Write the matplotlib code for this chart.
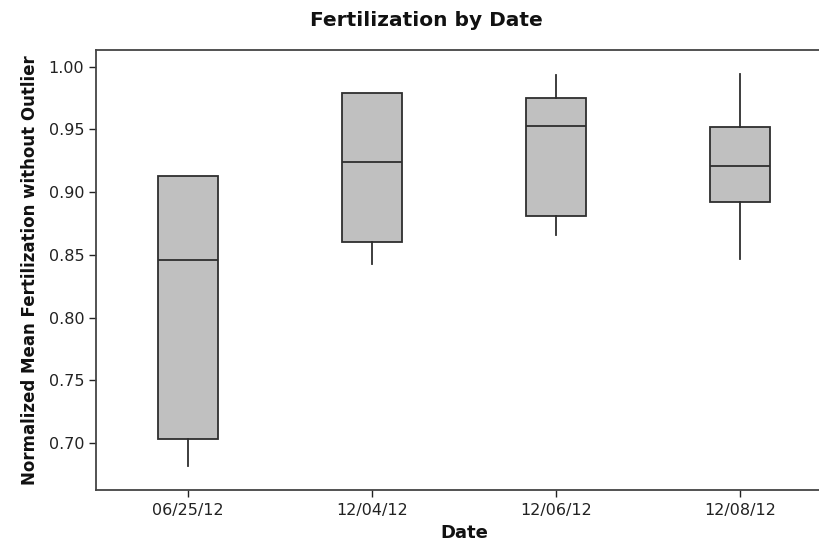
"""Fertilization by Date — Minitab-style boxplot"""
import matplotlib
matplotlib.use('Agg')
import matplotlib.pyplot as plt

# values
dates = ["06/25/12", "12/04/12", "12/06/12", "12/08/12"]
whisker_low = [0.682, 0.843, 0.866, 0.847]
q1 = [0.703, 0.860, 0.881, 0.892]
median = [0.846, 0.924, 0.953, 0.921]
q3 = [0.913, 0.979, 0.975, 0.952]
whisker_high = [0.913, 0.979, 0.993, 0.994]
yticks = [0.70, 0.75, 0.80, 0.85, 0.90, 0.95, 1.00]

BOX = "#c0c0c0"
EDGE = "#2e2e2e"
FONT = "DejaVu Sans"

stats = []
for i, d in enumerate(dates):
    stats.append({"label": d, "whislo": whisker_low[i], "q1": q1[i], "med": median[i],
                  "q3": q3[i], "whishi": whisker_high[i], "fliers": []})

fig = plt.figure(figsize=(8.2, 5.46), dpi=100, facecolor="white")
# the reference is cropped on the right, so the axes runs past the edge
ax = fig.add_axes([96 / 820, 56 / 546, 736 / 820, 440 / 546])

ax.bxp(stats, positions=[1, 2, 3, 4], widths=0.33, patch_artist=True, showcaps=False,
       boxprops={"facecolor": BOX, "edgecolor": EDGE, "linewidth": 1.3},
       medianprops={"color": EDGE, "linewidth": 1.3},
       whiskerprops={"color": EDGE, "linewidth": 1.3})

ax.set_xlim(0.5, 4.5)
ax.set_ylim(0.6627, 1.0133)
ax.set_yticks(yticks)
ax.set_yticklabels([f"{v:.2f}" for v in yticks])
ax.set_xticks([1, 2, 3, 4])
ax.set_xticklabels(dates)

ax.tick_params(colors="#222222", labelsize=11.5, length=5, width=1, direction="out")
ax.tick_params(axis="x", pad=4)
for spine in ax.spines.values():
    spine.set_color("#444444")
    spine.set_linewidth(1.3)

ax.set_ylabel("Normalized Mean Fertilization without Outlier", fontsize=12,
              fontweight="bold", family=FONT, labelpad=7, color="#111111")
ax.set_xlabel("Date", fontsize=13, fontweight="bold", family=FONT, labelpad=5,
              color="#111111")
fig.text(426 / 820, 1 - 20 / 546, "Fertilization by Date", ha="center", va="center",
         fontsize=14.5, fontweight="bold", family=FONT, color="#111111")

plt.savefig("out.png", dpi=100, facecolor="white")
plt.close()
